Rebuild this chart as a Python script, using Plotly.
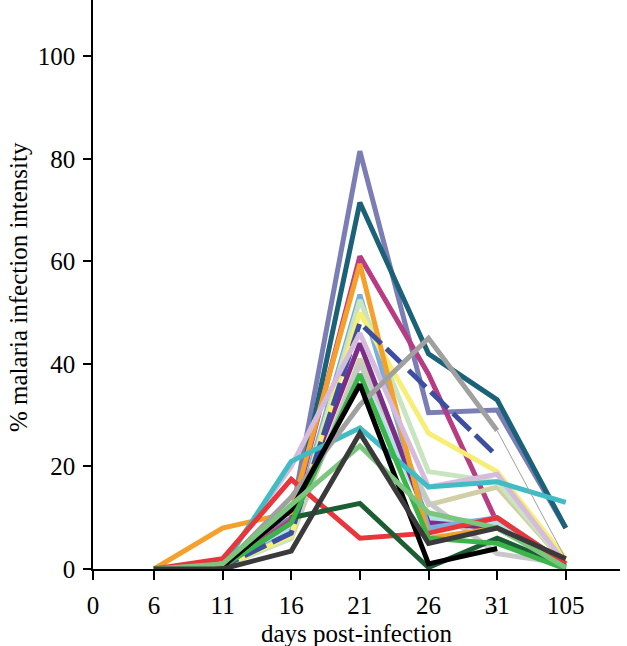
import plotly.graph_objects as go

days = ["6", "11", "16", "21", "26", "31", "105"]
xpos = [1, 2, 3, 4, 5, 6, 7]

periwinkle = [0, 1, 10, 81.5, 30.5, 31, 8]
dark_teal = [0, 0.5, 8, 71.5, 42, 33, 8]
magenta = [0, 0.5, 9.5, 61, 38, 9, 1]
orange = [0, 8, 11, 59.5, 6, 8, 1]
light_blue = [0, 0.5, 7, 53.5, 8, 10, 1]
mint = [0, 0.5, 6, 52.5, 19, 17, 1]
yellow = [0, 0.5, 6.5, 50, 26.5, 19, 2]
dark_blue = [0, 0.5, 7, 48, 35, 22, None]
lilac = [0, 1, 20, 46, 16, 18.5, 1]
purple = [0, 0.5, 9, 44, 9, 8, 1]
light_gray = [0, 0.5, 7, 40, 13, 3, 1]
tan = [0, 0.5, 6, 41, 12.5, 16, 1]
light_cyan = [0, 0.5, 8, 38, 10, 9, 1]
cyan = [0, 0.5, 21, 27.5, 16, 17, 13]
red = [0, 2, 17.5, 6, 7, 10, 1]
dark_green = [None, None, 10, 12.8, 0.3, 6, 0.5]
green = [0, 0.5, 9, 38, 6, 5, 0]
gray = [0, 0.5, 14, 32, 45, 27, None]
gray_tail = [None, None, None, None, None, 27, 2]
black = [0, 0.5, 11.5, 36, 1, 4, None]
med_green = [0, 1, 12.5, 24, 11, 8, 0.3]
dark_gray = [0, 0, 3.5, 26.5, 5, 8, 2]

series = [
    ("periwinkle", periwinkle, "#7b7db5", 5, "solid"),
    ("dark teal", dark_teal, "#1b6278", 5, "solid"),
    ("magenta", magenta, "#b83c82", 5, "solid"),
    ("light cyan", light_cyan, "#b3dfe6", 5, "solid"),
    ("tan", tan, "#d2cfa6", 5, "solid"),
    ("light gray", light_gray, "#c8c8c8", 5, "solid"),
    ("purple", purple, "#7b2d87", 5, "solid"),
    ("light blue", light_blue, "#79aede", 5, "solid"),
    ("mint", mint, "#c9e5c0", 5, "solid"),
    ("yellow", yellow, "#f7ee76", 5, "solid"),
    ("orange", orange, "#f5a02a", 5, "solid"),
    ("dark blue", dark_blue, "#3b4ea0", 5, "24px,7px"),
    ("lilac", lilac, "#d5bcdc", 5, "solid"),
    ("cyan", cyan, "#3fbcc4", 5, "solid"),
    ("red", red, "#e8363c", 5, "solid"),
    ("dark green", dark_green, "#1c5e34", 5, "solid"),
    ("green", green, "#3bb44a", 5, "solid"),
    ("gray", gray, "#a0a0a0", 5, "solid"),
    ("gray tail", gray_tail, "#a0a0a0", 1, "solid"),
    ("black", black, "#000000", 5, "solid"),
    ("medium green", med_green, "#7cc57e", 5, "solid"),
    ("dark gray", dark_gray, "#3a3a3a", 5, "solid"),
]

fig = go.Figure()
for name, vals, color, w, dash in series:
    fig.add_trace(go.Scatter(
        x=xpos, y=vals, mode="lines", name=name,
        line=dict(color=color, width=w, dash=dash),
        connectgaps=False, showlegend=False, hoverinfo="skip",
    ))

font = dict(family="Liberation Serif, Times New Roman, serif", size=25, color="#000")
x0 = 0.112
fig.update_layout(
    width=627, height=646,
    margin=dict(l=93, r=7, t=0, b=77),
    paper_bgcolor="white", plot_bgcolor="white",
    font=font,
    xaxis=dict(
        range=[x0, 7.79], tickvals=[x0] + xpos, ticktext=["0"] + days,
        showline=True, linecolor="#000", linewidth=1.5,
        ticks="outside", ticklen=9, tickwidth=1.5, tickcolor="#000",
        ticklabelstandoff=4,
        showgrid=False, zeroline=False, automargin=False,
    ),
    yaxis=dict(
        range=[0, 111], tickvals=[0, 20, 40, 60, 80, 100],
        showline=True, linecolor="#000", linewidth=1.5,
        ticks="outside", ticklen=8, tickwidth=1.5, tickcolor="#000",
        ticklabelstandoff=3,
        showgrid=False, zeroline=False, automargin=False,
    ),
    annotations=[
        dict(text="days post-infection", xref="paper", yref="paper",
             x=0.5, y=-(633 - 569) / 569, xanchor="center", yanchor="middle",
             showarrow=False, font=font),
        dict(text="% malaria infection intensity", xref="paper", yref="paper",
             x=-(93 - 18) / 527, y=(569 - 287) / 569, xanchor="center", yanchor="middle",
             textangle=-90, showarrow=False, font=font),
    ],
)
fig.write_html("out.html", config={"displayModeBar": False},
               post_script="document.body.style.margin='0';document.body.style.overflow='hidden';")
